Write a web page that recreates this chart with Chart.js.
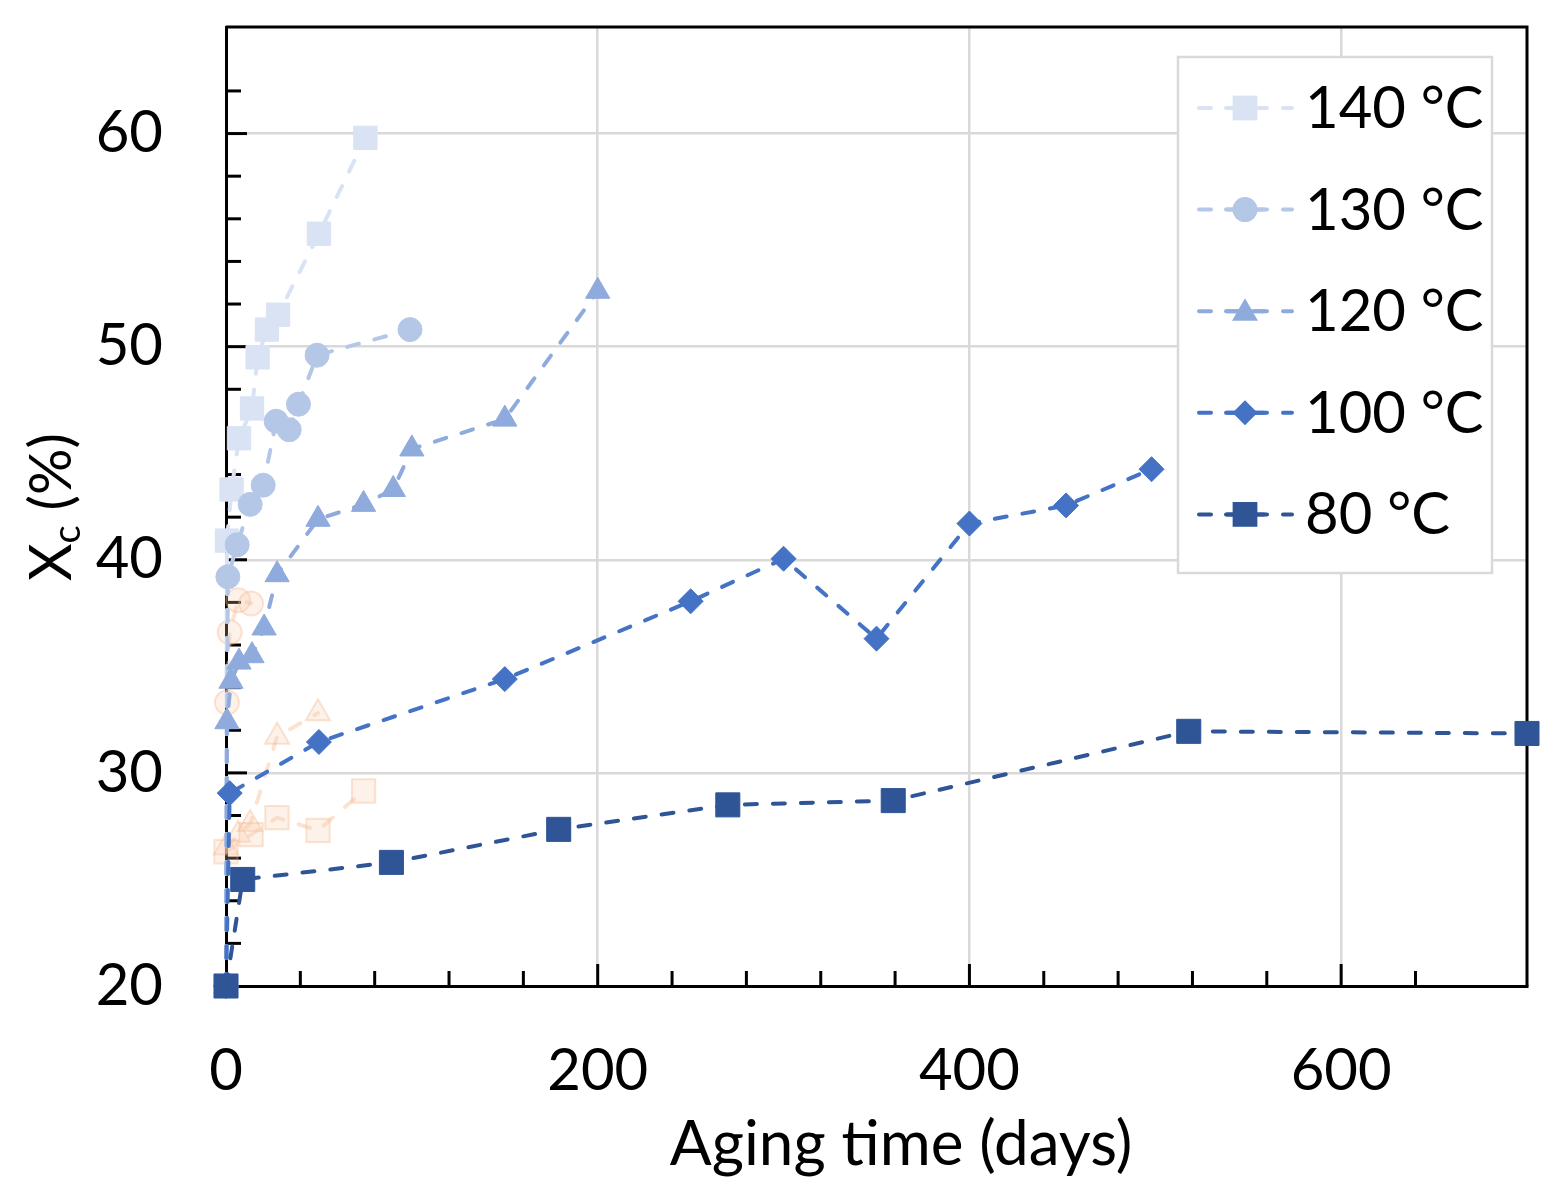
<!DOCTYPE html>
<html>
<head>
<meta charset="utf-8">
<script src="https://cdn.jsdelivr.net/npm/chart.js@4/dist/chart.umd.min.js"></script>
<style>
  html, body { margin: 0; padding: 0; background: #fff; }
</style>
</head>
<body>
<canvas id="xcChart" width="1562" height="1194"></canvas>
<script>
// aging time (days) and crystallinity Xc (%)
const days140 = [0, 0.5, 3, 7, 14, 17, 22, 28, 50, 75];
const xc140 = [20, 40.9, 43.3, 45.7, 47.1, 49.5, 50.8, 51.5, 55.3, 59.8];

const days130 = [0, 1, 6, 13, 20, 27, 34, 39, 49, 99];
const xc130 = [20, 39.2, 40.7, 42.6, 43.5, 46.5, 46.1, 47.3, 49.6, 50.8];

const days120 = [0, 0.5, 2.7, 7, 14, 20.5, 27.5, 49.5, 74, 90, 100, 150, 200];
const xc120 = [20, 32.4, 34.3, 35.2, 35.5, 36.8, 39.3, 41.9, 42.6, 43.3, 45.2, 46.6, 52.6];

const days100 = [0, 2, 50, 150, 250, 300, 350, 400, 452, 498];
const xc100 = [20, 29.05, 31.45, 34.4, 38.05, 40.05, 36.3, 41.7, 42.55, 44.25];

const days80 = [0, 9, 89, 179, 270, 359, 518, 700];
const xc80 = [20, 25.0, 25.8, 27.35, 28.5, 28.7, 31.95, 31.85];

// faint orange reference series (not in legend)
const daysRefSq = [0, 13.5, 27.4, 49.5, 74];
const xcRefSq = [26.3, 27.1, 27.9, 27.3, 29.15];
const daysRefTri = [0, 6.5, 13, 27.5, 49.5];
const xcRefTri = [26.5, 27.1, 27.6, 31.7, 32.8];
const daysRefCirc = [0.5, 2, 6.5, 13.5];
const xcRefCirc = [33.3, 36.6, 38.1, 37.95];

const seriesLabels = ["140 °C", "130 °C", "120 °C", "100 °C", "80 °C"];
const xTicksMajor = [0, 200, 400, 600];
const yTicksMajor = [20, 30, 40, 50, 60];
const xTitle = "Aging time (days)";

const FONT = "Lato, 'Open Sans', sans-serif";
const DASH = [12, 16];

function pts(xs, ys) {
  return xs.map((x, i) => ({ x: x, y: ys[i] }));
}

function blueSet(label, xs, ys, color, style, radius, order) {
  return {
    label: label,
    data: pts(xs, ys),
    borderColor: color,
    backgroundColor: color,
    pointBackgroundColor: color,
    pointBorderColor: color,
    pointBorderWidth: 1,
    pointStyle: style,
    pointRadius: radius,
    borderWidth: 4,
    borderDash: DASH,
    borderCapStyle: "round",
    tension: 0,
    clip: false,
    order: order,
    inLegend: true,
  };
}

function refSet(xs, ys, style, radius) {
  return {
    label: "",
    data: pts(xs, ys),
    borderColor: "rgba(248, 203, 173, 0.55)",
    pointBackgroundColor: "rgba(248, 203, 173, 0.25)",
    pointBorderColor: "rgba(244, 177, 131, 0.35)",
    pointBorderWidth: 2,
    pointStyle: style,
    pointRadius: radius,
    borderWidth: 4,
    borderDash: DASH,
    borderCapStyle: "round",
    clip: false,
    order: 10,
    inLegend: false,
  };
}

function drawMarker(ctx, style, x, y, r) {
  ctx.beginPath();
  if (style === "rect") {
    const s = Math.SQRT1_2 * r;
    ctx.rect(x - s, y - s, 2 * s, 2 * s);
  } else if (style === "circle") {
    ctx.arc(x, y, r, 0, Math.PI * 2);
  } else if (style === "triangle") {
    ctx.moveTo(x, y - r);
    ctx.lineTo(x + r * Math.sin(2 * Math.PI / 3), y + r / 2);
    ctx.lineTo(x - r * Math.sin(2 * Math.PI / 3), y + r / 2);
    ctx.closePath();
  } else if (style === "rectRot") {
    ctx.moveTo(x - r, y);
    ctx.lineTo(x, y - r);
    ctx.lineTo(x + r, y);
    ctx.lineTo(x, y + r);
    ctx.closePath();
  }
  ctx.fill();
}

// inward tick marks, top/right frame, axis titles, legend
const framePlugin = {
  id: "frame",
  beforeDatasetsDraw(chart) {
    const ctx = chart.ctx;
    const a = chart.chartArea;
    const xs = chart.scales.x;
    const ys = chart.scales.y;
    ctx.save();
    ctx.strokeStyle = "#000";
    ctx.lineWidth = 3;
    ys.ticks.forEach((t) => {
      if (t.value % 2 !== 0 || t.value === 20) return;
      const py = ys.getPixelForValue(t.value);
      const len = t.value % 10 === 0 ? 21 : 15;
      ctx.beginPath();
      ctx.moveTo(a.left, py);
      ctx.lineTo(a.left + len, py);
      ctx.stroke();
    });
    xs.ticks.forEach((t) => {
      if (t.value % 40 !== 0 || t.value === 0) return;
      const px = xs.getPixelForValue(t.value);
      const len = t.value % 200 === 0 ? 22 : 15;
      ctx.beginPath();
      ctx.moveTo(px, a.bottom);
      ctx.lineTo(px, a.bottom - len);
      ctx.stroke();
    });
    ctx.beginPath();
    ctx.moveTo(a.left, a.top);
    ctx.lineTo(a.right, a.top);
    ctx.lineTo(a.right, a.bottom);
    ctx.stroke();
    ctx.restore();
  },
  afterDraw(chart) {
    const ctx = chart.ctx;

    // x axis title
    ctx.save();
    ctx.fillStyle = "#000";
    ctx.font = "62px " + FONT;
    ctx.textAlign = "center";
    ctx.textBaseline = "alphabetic";
    ctx.fillText(xTitle, 901, 1165);
    ctx.restore();

    // y axis title with subscript
    ctx.save();
    ctx.translate(71, 507);
    ctx.rotate(-Math.PI / 2);
    ctx.fillStyle = "#000";
    ctx.textBaseline = "alphabetic";
    const big = "58px " + FONT;
    const small = "38px " + FONT;
    ctx.font = big;
    const wX = ctx.measureText("X").width;
    const wRest = ctx.measureText(" (%)").width;
    ctx.font = small;
    const wC = ctx.measureText("c").width;
    let x0 = -(wX + wC + wRest) / 2;
    ctx.font = big;
    ctx.fillText("X", x0, 0);
    ctx.font = small;
    ctx.fillText("c", x0 + wX, 9);
    ctx.font = big;
    ctx.fillText(" (%)", x0 + wX + wC, 0);
    ctx.restore();

    // legend box
    ctx.save();
    const bx = 1178, by = 57, bw = 314, bh = 516;
    ctx.fillStyle = "#fff";
    ctx.fillRect(bx, by, bw, bh);
    ctx.strokeStyle = "#d9d9d9";
    ctx.lineWidth = 2.5;
    ctx.strokeRect(bx, by, bw, bh);
    const sets = chart.data.datasets.filter((d) => d.inLegend);
    sets.forEach((d, i) => {
      const cy = 108 + i * 101.6;
      ctx.strokeStyle = d.borderColor;
      ctx.fillStyle = d.borderColor;
      ctx.lineWidth = 4;
      ctx.lineCap = "round";
      ctx.setLineDash([12, 16]);
      ctx.beginPath();
      ctx.moveTo(1199, cy);
      ctx.lineTo(1292, cy);
      ctx.stroke();
      ctx.setLineDash([]);
      ctx.beginPath();
      ctx.moveTo(1226, cy);
      ctx.lineTo(1264, cy);
      ctx.stroke();
      const r = d.pointStyle === "rect" ? 17.5 : (d.pointStyle === "triangle" ? 15 : 12.5);
      drawMarker(ctx, d.pointStyle, 1245, d.pointStyle === "triangle" ? cy + 2 : cy, r);
      ctx.fillStyle = "#000";
      ctx.font = "58px " + FONT;
      ctx.textBaseline = "alphabetic";
      ctx.fillText(d.label, 1305, cy + 20);
    });
    ctx.restore();
  },
};

const ctx = document.getElementById("xcChart").getContext("2d");
new Chart(ctx, {
  type: "line",
  data: {
    datasets: [
      blueSet(seriesLabels[0], days140, xc140, "#dae3f3", "rect", 16.5, 5),
      blueSet(seriesLabels[1], days130, xc130, "#b4c7e7", "circle", 12, 4),
      blueSet(seriesLabels[2], days120, xc120, "#8faadc", "triangle", 14, 3),
      blueSet(seriesLabels[3], days100, xc100, "#4472c4", "rectRot", 12.5, 2),
      blueSet(seriesLabels[4], days80, xc80, "#2f5597", "rect", 17, 1),
      refSet(daysRefSq, xcRefSq, "rect", 16.5),
      refSet(daysRefTri, xcRefTri, "triangle", 14),
      refSet(daysRefCirc, xcRefCirc, "circle", 12),
    ],
  },
  options: {
    responsive: false,
    animation: false,
    layout: { padding: { left: 0, top: 27, right: 35, bottom: 0 } },
    plugins: {
      legend: { display: false },
      tooltip: { enabled: false },
    },
    scales: {
      x: {
        type: "linear",
        min: 0,
        max: 700,
        afterFit: (scale) => {
          scale.height = 208;
          scale.paddingLeft = 0;
          scale.paddingRight = 0;
        },
        ticks: {
          stepSize: 40,
          autoSkip: false,
          maxRotation: 0,
          padding: 50,
          color: "#000",
          font: { family: FONT, size: 58 },
          callback: (v) => (xTicksMajor.includes(v) ? String(v) : ""),
        },
        grid: {
          drawTicks: false,
          lineWidth: 2.5,
          color: (c) => (c.tick && c.tick.value % 200 === 0 && c.tick.value > 0 && c.tick.value < 700 ? "#d9d9d9" : "rgba(0,0,0,0)"),
        },
        border: { color: "#000", width: 3 },
      },
      y: {
        type: "linear",
        min: 20,
        max: 65,
        afterFit: (scale) => {
          scale.width = 226;
          scale.paddingTop = 0;
          scale.paddingBottom = 0;
        },
        ticks: {
          stepSize: 2,
          autoSkip: false,
          padding: 63,
          color: "#000",
          font: { family: FONT, size: 58 },
          callback: (v) => (yTicksMajor.includes(v) ? String(v) : ""),
        },
        grid: {
          drawTicks: false,
          lineWidth: 2.5,
          color: (c) => (c.tick && c.tick.value % 10 === 0 && c.tick.value > 20 ? "#d9d9d9" : "rgba(0,0,0,0)"),
        },
        border: { color: "#000", width: 3 },
      },
    },
  },
  plugins: [framePlugin],
});
</script>
</body>
</html>
